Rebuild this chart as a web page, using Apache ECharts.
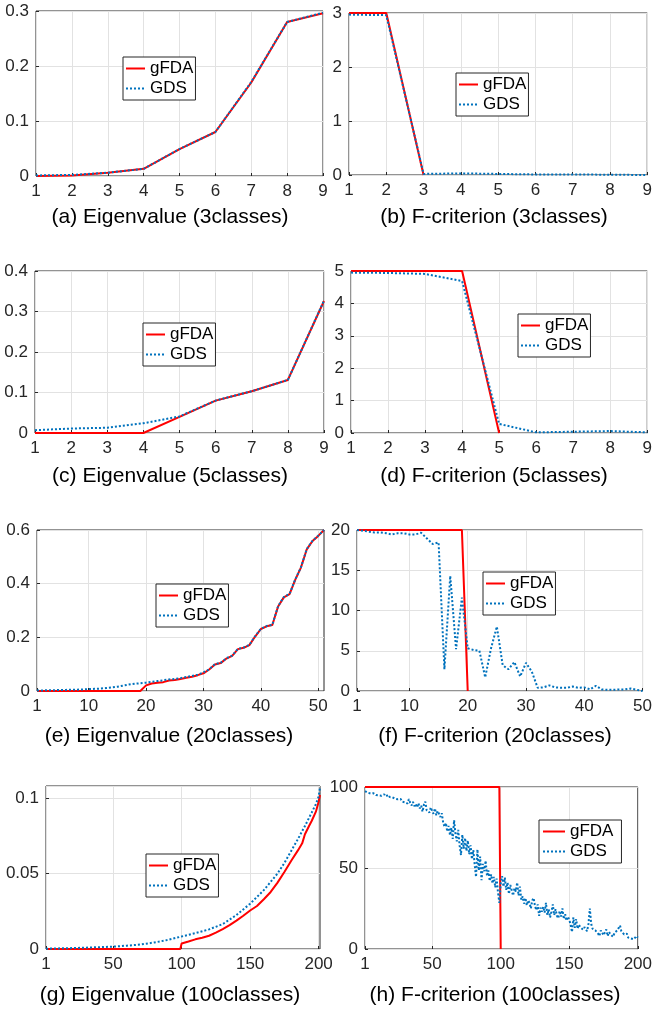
<!DOCTYPE html>
<html>
<head>
<meta charset="utf-8">
<script src="https://cdn.jsdelivr.net/npm/echarts@6/dist/echarts.min.js"></script>
<style>
  html, body { margin: 0; padding: 0; background: #ffffff; }
  #chart { width: 655px; height: 1011px; }
</style>
</head>
<body>
<div id="chart"></div>
<script>
// ---------- data ----------
// (a) eigenvalues, 3 classes
const eig3Gfda = [0, 0.001, 0.006, 0.013, 0.049, 0.080, 0.170, 0.280, 0.296];
const eig3Gds  = [0.001, 0.002, 0.006, 0.013, 0.049, 0.080, 0.171, 0.280, 0.297];
// (b) F-criterion, 3 classes
const f3Gfda = [3, 3, 0, null, null, null, null, null, null];
const f3Gds  = [2.97, 2.96, 0.02, 0.03, 0.02, 0.01, 0.01, 0.005, 0.0];
// (c) eigenvalues, 5 classes
const eig5Gfda = [0, 0, 0, 0, 0.040, 0.080, 0.103, 0.131, 0.326];
const eig5Gds  = [0.007, 0.011, 0.013, 0.024, 0.041, 0.080, 0.103, 0.131, 0.327];
// (d) F-criterion, 5 classes
const f5Gfda = [5, 5, 5, 5, 0, null, null, null, null];
const f5Gds  = [4.95, 4.94, 4.91, 4.69, 0.28, 0.02, 0.04, 0.06, 0.02];
// (e) eigenvalues, 20 classes (51 dimensions)
const eig20Gfda = [
  0, 0, 0, 0, 0, 0, 0, 0, 0, 0,
  0, 0, 0, 0, 0, 0, 0, 0, 0, 0.021,
  0.028, 0.031, 0.033, 0.039, 0.041, 0.045, 0.049, 0.053, 0.059, 0.066,
  0.080, 0.099, 0.104, 0.121, 0.131, 0.156, 0.161, 0.171, 0.203, 0.231,
  0.241, 0.246, 0.315, 0.349, 0.361, 0.415, 0.461, 0.528, 0.559, 0.578,
  0.600
];
const eig20Gds = [
  0.002, 0.002, 0.003, 0.003, 0.004, 0.004, 0.005, 0.005, 0.006, 0.007,
  0.008, 0.009, 0.011, 0.013, 0.016, 0.020, 0.024, 0.027, 0.029, 0.031,
  0.034, 0.037, 0.040, 0.043, 0.045, 0.048, 0.052, 0.056, 0.061, 0.069,
  0.081, 0.100, 0.105, 0.122, 0.132, 0.157, 0.162, 0.172, 0.204, 0.232,
  0.242, 0.247, 0.316, 0.350, 0.362, 0.416, 0.462, 0.529, 0.560, 0.579,
  0.600
];
// (f) F-criterion, 20 classes
const f20Gfda = [
  20, 20, 20, 20, 20, 20, 20, 20, 20, 20,
  20, 20, 20, 20, 20, 20, 20, 20, 20, 0,
  null, null, null, null, null, null, null, null, null, null,
  null, null, null, null, null, null, null, null, null, null,
  null, null, null, null, null, null, null, null, null, null
];
const f20Gds = [
  20.0, 19.9, 19.8, 19.7, 19.7, 19.6, 19.45, 19.6, 19.6, 19.45,
  19.45, 19.65, 18.95, 18.25, 18.45, 2.7, 14.3, 5.2, 11.6, 5.3,
  5.1, 5.0, 1.7, 5.3, 8.0, 3.2, 2.7, 3.6, 1.8, 3.5,
  2.4, 0.4, 0.45, 0.7, 0.45, 0.4, 0.4, 0.55, 0.4, 0.45,
  0.2, 0.65, 0.2, 0.15, 0.15, 0.2, 0.2, 0.3, 0.15, 0.0
];
// (g) eigenvalues, 100 classes (201 dimensions), read at these dimensions
const eig100GfdaX = [1, 99, 100, 105, 110, 115, 120, 125, 130, 135, 140, 145, 150, 155, 160,
                     165, 170, 175, 180, 185, 188, 190, 193, 195, 198, 200, 201];
const eig100Gfda  = [0, 0, 0.0037, 0.0050, 0.0064, 0.0075, 0.0088, 0.0108, 0.0132, 0.0158, 0.0188,
                     0.0220, 0.0255, 0.0285, 0.0330, 0.0378, 0.0440, 0.0510, 0.0585, 0.0655,
                     0.0700, 0.0760, 0.0815, 0.0850, 0.0910, 0.0975, 0.1020];
const eig100GdsX = [1, 10, 20, 30, 40, 50, 60, 70, 80, 90, 100, 110, 120, 130, 140, 150,
                    160, 170, 175, 180, 185, 190, 195, 198, 200, 201];
const eig100Gds  = [0.0002, 0.0004, 0.0006, 0.0009, 0.0012, 0.0016, 0.0022, 0.0030, 0.0043,
                    0.0060, 0.0083, 0.0105, 0.0130, 0.0165, 0.0225, 0.0300, 0.0390, 0.0500,
                    0.0570, 0.0650, 0.0730, 0.0815, 0.0905, 0.0960, 0.1010, 0.1070];
// (h) F-criterion, 100 classes
const f100GfdaX = [1, 99, 100];
const f100Gfda  = [100, 100, 0];
const f100Gds = [
  97.5, 97.0, 96.5, 96.8, 96.0, 95.6, 96.2, 95.4, 95.0, 95.6,
  94.8, 95.3, 94.6, 95.0, 95.5, 94.2, 94.8, 95.2, 93.8, 94.5,
  93.6, 94.2, 92.8, 93.5, 92.4, 91.8, 92.6, 91.0, 92.2, 90.6,
  91.4, 89.8, 92.5, 90.2, 88.6, 90.8, 88.2, 89.5, 87.4, 90.0,
  86.8, 88.5, 84.8, 89.2, 91.0, 85.6, 86.5, 84.2, 87.4, 85.0,
  83.5, 86.8, 82.6, 85.2, 84.0, 81.5, 83.8, 78.2, 75.5, 77.8,
  72.5, 76.0, 70.2, 74.8, 68.0, 79.5, 71.0, 66.5, 73.5, 64.0,
  58.0, 70.5, 62.0, 68.5, 60.5, 67.0, 58.5, 64.0, 55.5, 61.0,
  52.0, 44.5, 61.5, 48.5, 57.0, 42.5, 52.5, 48.0, 54.5, 45.0,
  48.5, 42.0, 46.0, 40.5, 44.5, 38.0, 43.5, 35.0, 28.5, 40.5,
  45.0, 38.5, 44.0, 36.5, 41.0, 34.0, 39.5, 40.5, 33.0, 37.5,
  35.5, 41.0, 33.0, 38.5, 30.5, 32.5, 28.0, 31.5, 27.0, 30.0,
  28.5, 25.0, 30.0, 31.5, 26.5, 24.0, 27.5, 20.5, 25.5, 23.0,
  26.0, 22.5, 28.5, 21.0, 24.5, 19.5, 23.0, 27.5, 21.0, 24.5,
  20.5, 19.0, 23.5, 20.0, 25.0, 18.5, 21.5, 17.5, 20.0, 18.0,
  15.0, 10.5, 19.5, 13.0, 18.5, 12.5, 15.0, 13.5, 14.0, 12.0,
  13.5, 14.5, 11.0, 15.5, 25.0, 15.5, 12.5, 13.0, 11.5, 10.5,
  9.5, 8.0, 11.5, 10.0, 8.5, 9.5, 12.0, 8.0, 10.5, 9.0,
  8.5, 7.5, 10.0, 9.5, 11.5, 12.5, 14.5, 11.0, 10.5, 9.0,
  8.5, 9.5, 7.0, 8.0, 6.5, 7.5, 6.0, 5.5, 8.0, 7.0
];

// tick values for the wide dimension axes
const ticks51  = [1, 10, 20, 30, 40, 50];
const ticks50  = [1, 10, 20, 30, 40, 50];
const ticks201 = [1, 50, 100, 150, 200];
const ticks200 = [1, 50, 100, 150, 200];

const captions = [
  '(a) Eigenvalue (3classes)', '(b) F-criterion (3classes)',
  '(c) Eigenvalue (5classes)', '(d) F-criterion (5classes)',
  '(e) Eigenvalue (20classes)', '(f) F-criterion (20classes)',
  '(g) Eigenvalue (100classes)', '(h) F-criterion (100classes)'
];
const seriesNames = ['gFDA', 'GDS'];

// ---------- helpers ----------
const byIndex = ys => ys.map((y, i) => [i + 1, y]);
const byX = (xs, ys) => xs.map((x, i) => [x, ys[i]]);

// ---------- layout & style ----------
const FONT = '"Liberation Sans", Arial, Helvetica, sans-serif';
const INK = '#262626';
const RED = '#ff0000';
const BLUE = '#0072bd';
const GRIDLINE = '#e2e2e2';

const panels = [
  { grid: [36, 11, 287, 165], x: { min: 1, max: 9, interval: 1 }, y: { min: 0, max: 0.3, interval: 0.1 },
    legend: [123, 57], cap: [170, 217], a: byIndex(eig3Gfda), b: byIndex(eig3Gds) },
  { grid: [349, 13, 304, 162], x: { min: 1, max: 9, interval: 1 }, y: { min: 0, max: 3, interval: 1 },
    legend: [456, 73], cap: [494, 217], a: byIndex(f3Gfda), b: byIndex(f3Gds) },
  { grid: [35, 271, 289, 162], x: { min: 1, max: 9, interval: 1 }, y: { min: 0, max: 0.4, interval: 0.1 },
    legend: [143, 323], cap: [170, 476], a: byIndex(eig5Gfda), b: byIndex(eig5Gds) },
  { grid: [351, 271, 299, 162], x: { min: 1, max: 9, interval: 1 }, y: { min: 0, max: 5, interval: 1 },
    legend: [518, 314], cap: [494, 476], a: byIndex(f5Gfda), b: byIndex(f5Gds) },
  { grid: [37, 530, 287, 161], x: { min: 1, max: 51, ticks: ticks51 }, y: { min: 0, max: 0.6, interval: 0.2 },
    legend: [156, 584], cap: [169, 736], a: byIndex(eig20Gfda), b: byIndex(eig20Gds) },
  { grid: [357, 530, 289, 161], x: { min: 1, max: 50, ticks: ticks50 }, y: { min: 0, max: 20, interval: 5 },
    legend: [483, 572], cap: [495, 736], a: byIndex(f20Gfda), b: byIndex(f20Gds) },
  { grid: [46, 786, 274, 163], x: { min: 1, max: 201, ticks: ticks201 }, y: { min: 0, max: 0.108, interval: 0.05, hideMax: true },
    legend: [146, 854], cap: [170, 995], a: byX(eig100GfdaX, eig100Gfda), b: byX(eig100GdsX, eig100Gds) },
  { grid: [365, 787, 275, 162], x: { min: 1, max: 200, ticks: ticks200 }, y: { min: 0, max: 100, interval: 50 },
    legend: [539, 820], cap: [495, 995], a: byX(f100GfdaX, f100Gfda), b: byIndex(f100Gds), wideLegend: true }
];

const option = {
  animation: false,
  backgroundColor: '#ffffff',
  textStyle: { fontFamily: FONT },
  grid: panels.map(p => ({
    left: p.grid[0], top: p.grid[1], width: p.grid[2], height: p.grid[3],
    show: true, borderColor: INK, borderWidth: 1, containLabel: false
  })),
  xAxis: panels.map((p, i) => ({
    gridIndex: i, type: 'value', min: p.x.min, max: p.x.max,
    interval: p.x.interval,
    axisLine: { show: false },
    axisTick: { show: true, inside: true, length: 3, lineStyle: { color: INK }, customValues: p.x.ticks },
    axisLabel: { color: INK, fontSize: 17, fontFamily: FONT, margin: 7, customValues: p.x.ticks,
                 showMinLabel: true, showMaxLabel: true },
    splitLine: { show: true, lineStyle: { color: GRIDLINE, width: 1 } }
  })),
  yAxis: panels.map((p, i) => ({
    gridIndex: i, type: 'value', min: p.y.min, max: p.y.max, interval: p.y.interval,
    axisLine: { show: false },
    axisTick: { show: true, inside: true, length: 3, lineStyle: { color: INK } },
    axisLabel: { color: INK, fontSize: 17, fontFamily: FONT, margin: 7,
                 showMinLabel: true, showMaxLabel: !p.y.hideMax },
    splitLine: { show: true, lineStyle: { color: GRIDLINE, width: 1 } }
  })),
  legend: panels.map(p => ({
    data: seriesNames, orient: 'vertical', left: p.legend[0], top: p.legend[1],
    itemWidth: p.wideLegend ? 22 : 19, itemHeight: 12, itemGap: 3,
    padding: p.wideLegend ? [3, 8, 3, 3] : [3, 2, 3, 2],
    backgroundColor: '#ffffff', borderColor: INK, borderWidth: 1, borderRadius: 0,
    selectedMode: false,
    // line-only keys: the marker symbol of each entry is made invisible
    itemStyle: { opacity: 0, borderWidth: 0 },
    textStyle: { fontSize: 17, fontFamily: FONT, color: '#000000', lineHeight: 17 }
  })),
  series: panels.flatMap((p, i) => [
    { type: 'line', name: seriesNames[0], xAxisIndex: i, yAxisIndex: i, data: p.a,
      symbol: 'none', clip: false, connectNulls: false, z: 3,
      lineStyle: { color: RED, width: 2 }, itemStyle: { color: RED } },
    { type: 'line', name: seriesNames[1], xAxisIndex: i, yAxisIndex: i, data: p.b,
      symbol: 'none', clip: false, z: 4,
      lineStyle: { color: BLUE, width: 2, type: [2, 2] }, itemStyle: { color: BLUE } }
  ]),
  graphic: panels.map((p, i) => ({
    type: 'text', x: p.cap[0], y: p.cap[1], silent: true,
    style: { text: captions[i], fontSize: 21, fontFamily: FONT, fill: '#000000',
             align: 'center', verticalAlign: 'middle' }
  }))
};

const chart = echarts.init(document.getElementById('chart'), null, { renderer: 'canvas' });
chart.setOption(option);
</script>
</body>
</html>
